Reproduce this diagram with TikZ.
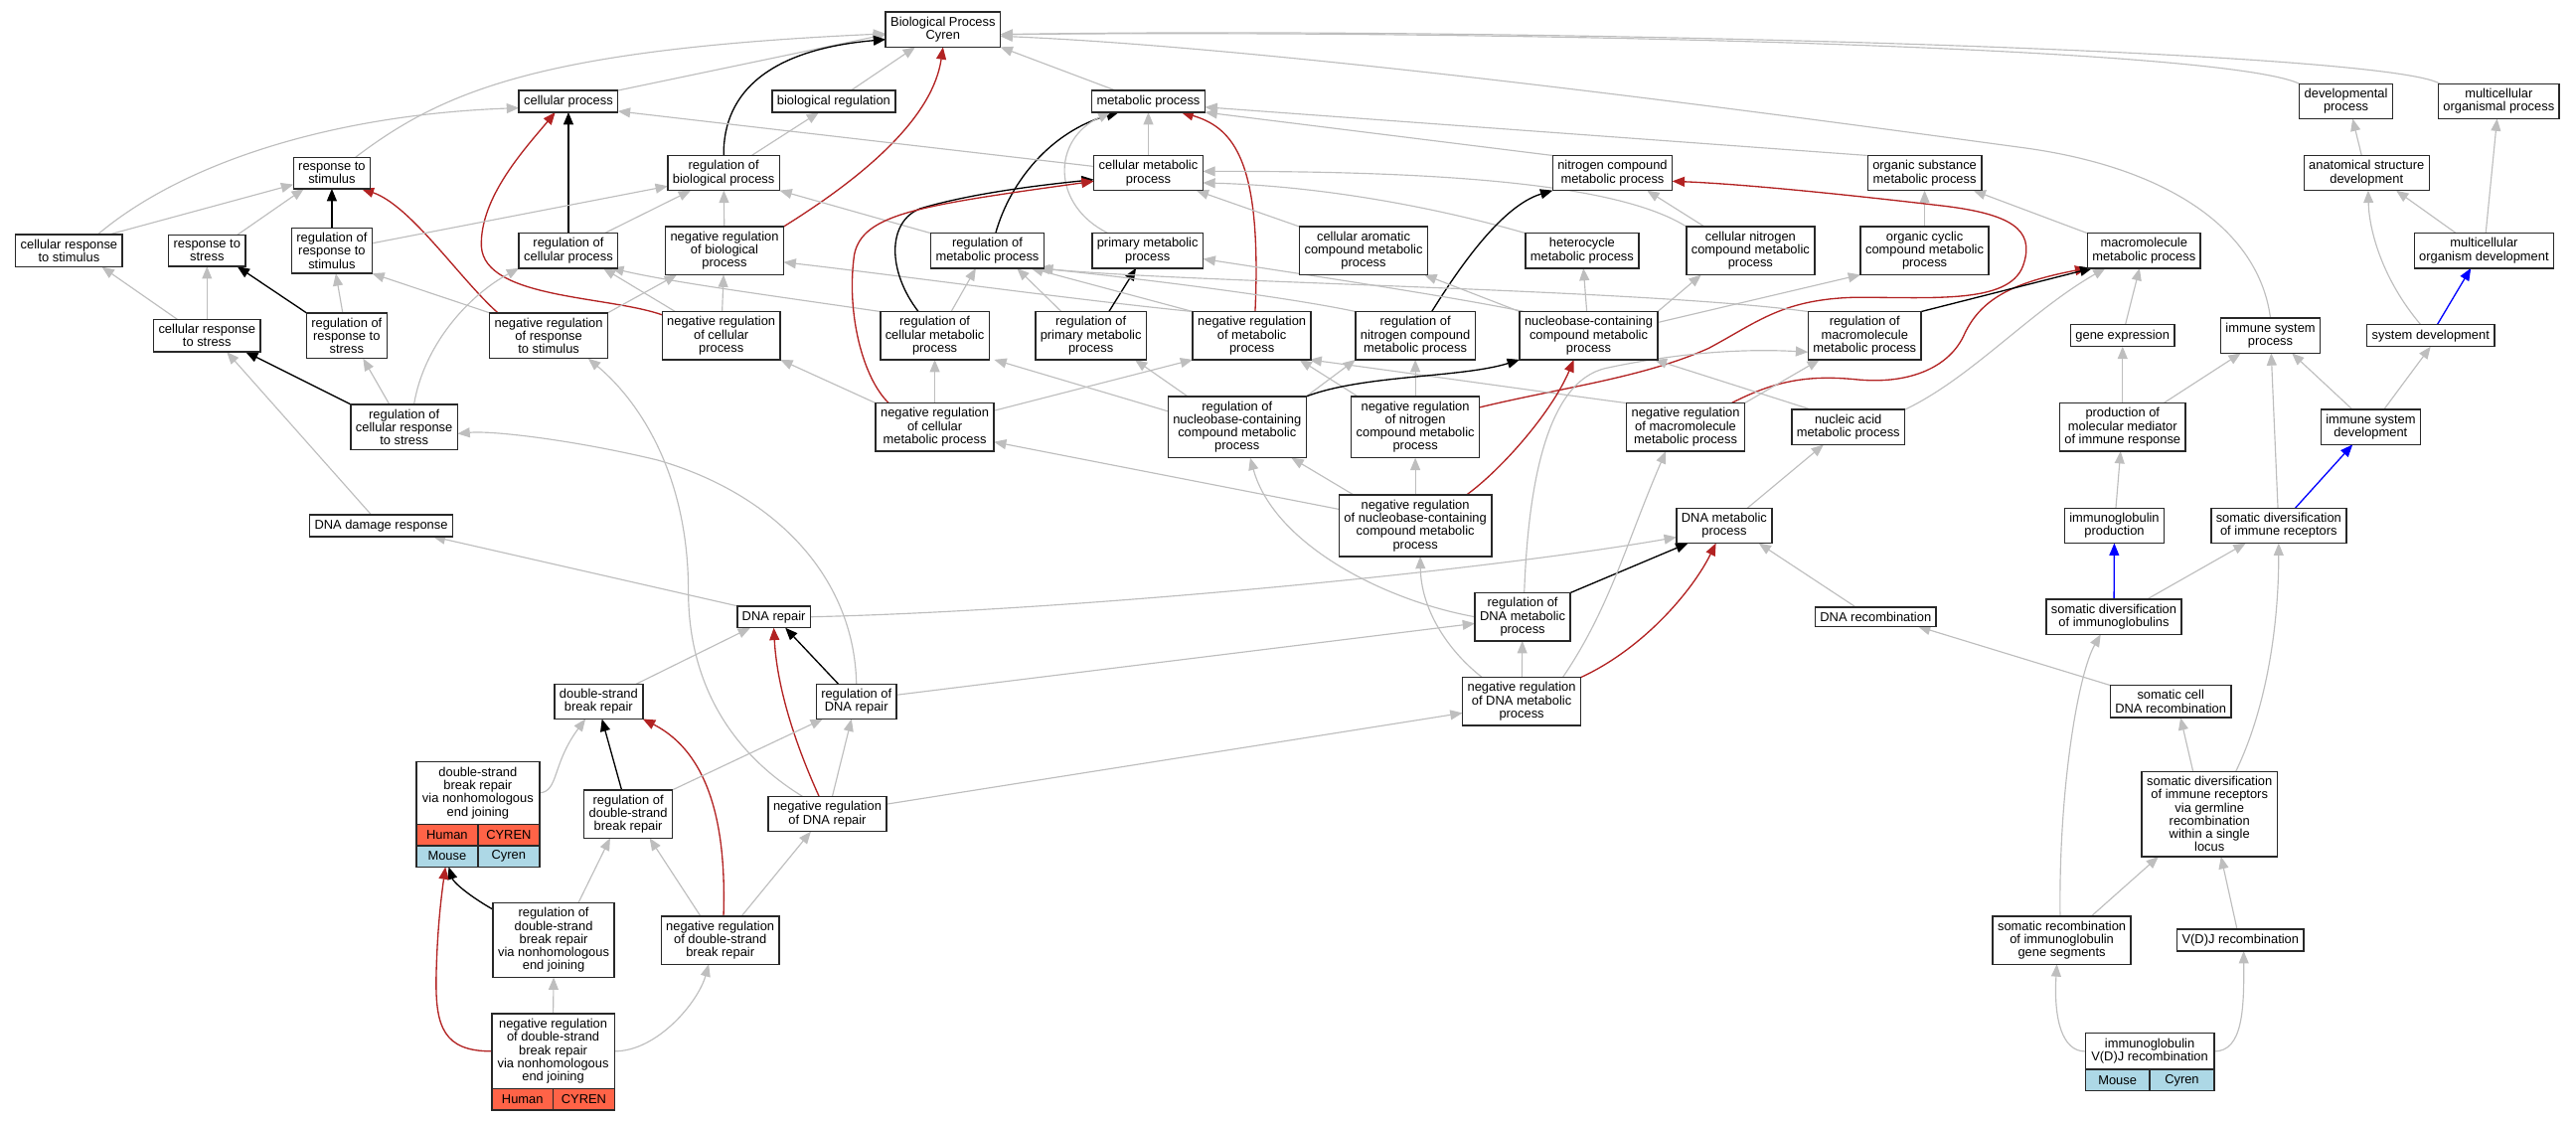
\documentclass[tikz,border=0pt]{standalone}
\usepackage{fontspec}
\setmainfont{Liberation Sans}
\usetikzlibrary{arrows.meta,backgrounds}

\begin{document}
\begin{tikzpicture}[x=1pt, y=-1pt,
    term/.style={draw=boxline, line width=0.9pt, fill=white, align=center,
      inner xsep=3pt, inner ysep=3pt, outer sep=0pt, font=\fontsize{7.8}{8}\selectfont},
    cell/.style={draw=boxline, line width=0.9pt, inner sep=0pt, outer sep=0pt,
      minimum height=13pt, font=\fontsize{7.8}{8}\selectfont},
    isa/.style={-{Triangle[length=7.5pt,width=6pt]}, draw=edgegray, line width=0.7pt},
    regedge/.style={-{Triangle[length=7.5pt,width=6pt]}, draw=black, line width=0.8pt},
    negedge/.style={-{Triangle[length=7.5pt,width=6pt]}, draw=negred, line width=0.8pt},
    partedge/.style={-{Triangle[length=7.5pt,width=6pt]}, draw=blue, line width=0.8pt}]

    % Цвета
    \definecolor{boxline}{RGB}{40,40,40}
    \definecolor{edgegray}{RGB}{190,190,190}
    \definecolor{negred}{RGB}{178,34,34}
    \definecolor{humanfill}{RGB}{255,99,71}
    \definecolor{mousefill}{RGB}{173,216,230}

    \useasboundingbox (0,0) rectangle (1568,682);

    % Корень и первый уровень
    \node[term] (bp) at (574,18) {Biological Process\\Cyren};
    \node[term] (cellproc) at (346,61.7) {cellular process};
    \node[term] (bioreg) at (507.5,61.7) {biological regulation};
    \node[term] (metab) at (699,61.7) {metabolic process};
    \node[term] (devproc) at (1428,61.6) {developmental\\process};
    \node[term] (multiorg) at (1521,61.6) {multicellular\\organismal process};

    % Второй уровень
    \node[term] (respstim) at (202,105.3) {response to\\stimulus};
    \node[term] (regbio) at (440.5,105.3) {regulation of\\biological process};
    \node[term] (cellmetab) at (699,105.3) {cellular metabolic\\process};
    \node[term] (nitro) at (981.5,105.3) {nitrogen compound\\metabolic process};
    \node[term] (orgsub) at (1171.5,105.3) {organic substance\\metabolic process};
    \node[term] (anat) at (1440.5,105.3) {anatomical structure\\development};

    % Третий уровень
    \node[term] (cellrespstim) at (42,152.6) {cellular response\\to stimulus};
    \node[term] (respstress) at (126,152.6) {response to\\stress};
    \node[term] (regrespstim) at (202,152.6) {regulation of\\response to\\stimulus};
    \node[term] (regcell) at (346,152.6) {regulation of\\cellular process};
    \node[term] (negregbio) at (441,152.6) {negative regulation\\of biological\\process};
    \node[term] (regmetab) at (601,152.6) {regulation of\\metabolic process};
    \node[term] (primmetab) at (698.5,152.6) {primary metabolic\\process};
    \node[term] (cellarom) at (830,152.6) {cellular aromatic\\compound metabolic\\process};
    \node[term] (hetero) at (963,152.6) {heterocycle\\metabolic process};
    \node[term] (cellnitro) at (1065.5,152.6) {cellular nitrogen\\compound metabolic\\process};
    \node[term] (orgcyc) at (1171.5,152.6) {organic cyclic\\compound metabolic\\process};
    \node[term] (macro) at (1305,152.6) {macromolecule\\metabolic process};
    \node[term] (multidev) at (1512,152.6) {multicellular\\organism development};

    % Четвёртый уровень
    \node[term] (cellrespstress) at (126,204.3) {cellular response\\to stress};
    \node[term] (regrespstress) at (211,204.3) {regulation of\\response to\\stress};
    \node[term] (negregrespstim) at (334,204.3) {negative regulation\\of response\\to stimulus};
    \node[term] (negregcell) at (439,204.3) {negative regulation\\of cellular\\process};
    \node[term] (regcellmetab) at (569,204.3) {regulation of\\cellular metabolic\\process};
    \node[term] (regprim) at (664,204.3) {regulation of\\primary metabolic\\process};
    \node[term] (negregmetab) at (762,204.3) {negative regulation\\of metabolic\\process};
    \node[term] (regnitro) at (861.5,204.3) {regulation of\\nitrogen compound\\metabolic process};
    \node[term] (nucleo) at (967,204.3) {nucleobase-containing\\compound metabolic\\process};
    \node[term] (regmacro) at (1135,204.3) {regulation of\\macromolecule\\metabolic process};
    \node[term] (geneexp) at (1292,204.3) {gene expression};
    \node[term] (immsys) at (1382,204.3) {immune system\\process};
    \node[term] (sysdev) at (1479.5,204.3) {system development};

    % Пятый уровень
    \node[term] (regcellresp) at (246,260) {regulation of\\cellular response\\to stress};
    \node[term] (negregcellmetab) at (569,260) {negative regulation\\of cellular\\metabolic process};
    \node[term] (regnucleo) at (753,260) {regulation of\\nucleobase-containing\\compound metabolic\\process};
    \node[term] (negregnitro) at (861.5,260) {negative regulation\\of nitrogen\\compound metabolic\\process};
    \node[term] (negregmacro) at (1026,260) {negative regulation\\of macromolecule\\metabolic process};
    \node[term] (nucacid) at (1125,260) {nucleic acid\\metabolic process};
    \node[term] (prodmed) at (1292,260) {production of\\molecular mediator\\of immune response};
    \node[term] (immdev) at (1443,260) {immune system\\development};

    % Шестой уровень
    \node[term] (dnadamage) at (232,320) {DNA damage response};
    \node[term] (negregnucleo) at (861.5,320) {negative regulation\\of nucleobase-containing\\compound metabolic\\process};
    \node[term] (dnametab) at (1049.5,320) {DNA metabolic\\process};
    \node[term] (igprod) at (1287,320) {immunoglobulin\\production};
    \node[term] (somdiv) at (1387,320) {somatic diversification\\of immune receptors};

    % Седьмой и восьмой уровни
    \node[term] (dnarepair) at (471,375.5) {DNA repair};
    \node[term] (regdnametab) at (926.8,375.5) {regulation of\\DNA metabolic\\process};
    \node[term] (dnarecomb) at (1141.7,375.5) {DNA recombination};
    \node[term] (somdivig) at (1286.7,375.5) {somatic diversification\\of immunoglobulins};
    \node[term] (dsb) at (364.4,427) {double-strand\\break repair};
    \node[term] (regdnarepair) at (521.3,427) {regulation of\\DNA repair};
    \node[term] (negregdnametab) at (926.2,427) {negative regulation\\of DNA metabolic\\process};
    \node[term] (somcell) at (1321.3,427) {somatic cell\\DNA recombination};

    % Нижние уровни
    \node[term, minimum width=75pt, minimum height=38.1pt] (nhej) at (290.9,482.65) {double-strand\\break repair\\via nonhomologous\\end joining};
    \node[term] (regdsb) at (382.4,495.5) {regulation of\\double-strand\\break repair};
    \node[term] (negregdnarepair) at (503.6,495.5) {negative regulation\\of DNA repair};
    \node[term] (somgerm) at (1344.9,495.5) {somatic diversification\\of immune receptors\\via germline\\recombination\\within a single\\locus};
    \node[term] (regnhej) at (337,572.3) {regulation of\\double-strand\\break repair\\via nonhomologous\\end joining};
    \node[term] (negregdsb) at (438.4,572.3) {negative regulation\\of double-strand\\break repair};
    \node[term] (somrecomb) at (1255,572.3) {somatic recombination\\of immunoglobulin\\gene segments};
    \node[term] (vdj) at (1363.7,572.3) {V(D)J recombination};
    \node[term, minimum width=74.6pt, minimum height=45.8pt] (negregnhej) at (336.7,639.9) {negative regulation\\of double-strand\\break repair\\via nonhomologous\\end joining};
    \node[term, minimum width=78.4pt, minimum height=22.1pt] (igvdj) at (1308.5,640) {immunoglobulin\\V(D)J recombination};

    % Таблицы видов
    \node[cell, fill=humanfill, minimum width=37.5pt, anchor=north west] (nhejh) at (nhej.south west) {Human};
    \node[cell, fill=humanfill, minimum width=37.5pt, anchor=north west] (nhejc) at (nhejh.north east) {CYREN};
    \node[cell, fill=mousefill, minimum width=37.5pt, anchor=north west] (nhejm) at (nhejh.south west) {Mouse};
    \node[cell, fill=mousefill, minimum width=37.5pt, anchor=north west] (nhejy) at (nhejm.north east) {Cyren};
    \node[cell, fill=humanfill, minimum width=37.3pt, anchor=north west] (negnhejh) at (negregnhej.south west) {Human};
    \node[cell, fill=humanfill, minimum width=37.3pt, anchor=north west] (negnhejc) at (negnhejh.north east) {CYREN};
    \node[cell, fill=mousefill, minimum width=39.2pt, anchor=north west] (igvdjm) at (igvdj.south west) {Mouse};
    \node[cell, fill=mousefill, minimum width=39.2pt, anchor=north west] (igvdjy) at (igvdjm.north east) {Cyren};

    \begin{scope}[on background layer]
    % Простые связи
    \foreach \a/\b in {cellmetab/metab, negregbio/regbio, negregcell/negregbio, cellrespstress/respstress,
        regrespstress/regrespstim, geneexp/macro, orgcyc/orgsub, nucleo/hetero,
        negregcellmetab/regcellmetab, negregnitro/regnitro, negregnucleo/negregnitro,
        negregdnametab/regdnametab, igprod/prodmed, prodmed/geneexp, somdiv/immsys, multidev/multiorg}
        \draw[isa] (\a) -- (\b);
    \foreach \a/\b in {regcell/cellproc, regrespstim/respstim}
        \draw[regedge] (\a) -- (\b);
    \draw[partedge] (somdivig) -- (igprod);

    % Связи к корню
    \draw[isa] ([xshift=-9pt]respstim.north east) .. controls (270,55) and (330,30) .. ([yshift=-2.5pt]bp.west);
    \draw[isa] (cellproc.north east) -- ([yshift=-3pt]bp.west);
    \draw[regedge] (regbio.north) .. controls (440,55) and (470,30) .. ([yshift=-6pt]bp.west);
    \draw[isa] ([xshift=-27pt]bioreg.north east) -- ([xshift=18pt]bp.south west);
    \draw[negedge] (negregbio.north east) .. controls (530,105) and (568,70) .. (bp.south);
    \draw[isa] ([xshift=-20pt]metab.north) -- (bp.south east);
    \draw[isa] (devproc.north west) .. controls (1350,28) and (900,18) .. ([yshift=-3pt]bp.east);
    \draw[isa] ([xshift=1pt]multiorg.north west) .. controls (1450,30) and (900,16) .. ([yshift=-3pt]bp.east);
    \draw[isa] (immsys.north) .. controls (1375,140) and (1320,102) .. (1232,90) .. controls (1150,79) and (800,30) .. ([yshift=-4pt]bp.east);
    \draw[isa] ([xshift=-17pt]regbio.north east) -- ([xshift=-9pt]bioreg.south);

    % metabolic process
    \draw[regedge] ([xshift=5pt]regmetab.north) .. controls (615,110) and (640,80) .. ([xshift=-18pt]metab.south);
    \draw[isa] ([xshift=-24pt]primmetab.north) .. controls (640,125) and (640,85) .. ([xshift=-23pt]metab.south);
    \draw[negedge] ([xshift=2pt]negregmetab.north) .. controls (768,100) and (752,78) .. ([xshift=20pt]metab.south);
    \draw[isa] (orgsub.north west) -- ([yshift=-3.5pt]metab.east);
    \draw[isa] (nitro.north west) -- (metab.south east);

    % cellular process, response to stimulus
    \draw[isa] ([xshift=-15pt]cellrespstim.north east) .. controls (110,100) and (200,70) .. ([yshift=-4pt]cellproc.west);
    \draw[isa] ([xshift=-8pt]cellrespstim.north east) -- ([yshift=-7pt]respstim.west);
    \draw[negedge] ([yshift=-2pt]negregcell.north west) .. controls (370,180) and (295,182) .. (293,150) .. controls (292,120) and (320,90) .. ([xshift=-8pt]cellproc.south);
    \draw[isa] ([yshift=4pt]cellmetab.west) -- ([yshift=-6pt]cellproc.east);
    \draw[isa] ([xshift=-5pt]respstress.north east) -- ([xshift=-17pt]respstim.south);
    \draw[negedge] ([xshift=5pt]negregrespstim.north west) .. controls (280,170) and (250,125) .. ([xshift=18pt]respstim.south);

    % regulation of biological process
    \draw[isa] ([yshift=4.5pt]regrespstim.east) -- ([yshift=-8pt]regbio.west);
    \draw[isa] ([xshift=22pt]regcell.north) -- ([xshift=-20pt]regbio.south);
    \draw[isa] (regmetab.north west) -- (regbio.south east);
    \draw[isa] (negregrespstim.north east) -- ([xshift=-29pt]negregbio.south);
    \draw[isa] (negregmetab.north west) .. controls (650,182) and (550,168) .. ([yshift=-7pt]negregbio.east);

    % regulation of cellular process, stress
    \draw[isa] ([xshift=6pt]regcellresp.north) .. controls (258,210) and (285,180) .. (regcell.south west);
    \draw[isa] ([xshift=8pt]negregcell.north west) -- ([xshift=-9pt]regcell.south east);
    \draw[isa] (regcellmetab.north west) .. controls (470,180) and (410,172) .. ([xshift=-4pt]regcell.south east);
    \draw[regedge] (regrespstress.north west) -- ([xshift=-5pt]respstress.south east);
    \draw[isa] ([xshift=-18pt]cellrespstress.north) -- ([xshift=20pt]cellrespstim.south);
    \draw[isa] (negregrespstim.north west) -- (regrespstim.south east);
    \draw[regedge] (regcellresp.north west) -- ([xshift=-9pt]cellrespstress.south east);
    \draw[isa] ([xshift=-6pt]dnadamage.north) -- ([xshift=12pt]cellrespstress.south);
    \draw[isa] ([xshift=-9pt]regcellresp.north) -- ([xshift=10pt]regrespstress.south);
    \draw[isa] ([xshift=-15pt]negregdnarepair.north) .. controls (440,455) and (419,410) .. (419,360) .. controls (419,290) and (390,245) .. ([xshift=24pt]negregrespstim.south);
    \draw[isa] (regdnarepair.north) .. controls (520,350) and (470,300) .. (400,280) .. controls (350,268) and (300,262) .. ([yshift=-4pt]regcellresp.east);
    \draw[isa] (dnarepair.north west) -- ([xshift=-12pt]dnadamage.south east);

    % cellular metabolic process
    \draw[isa] (cellarom.north west) -- ([xshift=-4pt]cellmetab.south east);
    \draw[isa] (hetero.north west) .. controls (870,125) and (800,113) .. ([yshift=-6pt]cellmetab.east);
    \draw[isa] (cellnitro.north west) .. controls (990,115) and (900,104) .. ([yshift=1pt]cellmetab.east);
    \draw[regedge] ([xshift=-10pt]regcellmetab.north) .. controls (540,165) and (540,135) .. (560,127) .. controls (590,118) and (630,113) .. ([yshift=-4pt]cellmetab.west);
    \draw[negedge] ([xshift=-28pt]negregcellmetab.north) .. controls (525,230) and (515,190) .. (520,155) .. controls (525,130) and (560,125) .. ([yshift=-5pt]cellmetab.west);

    % nitrogen compound, macromolecule
    \draw[isa] ([xshift=-28pt]cellnitro.north) -- ([xshift=21pt]nitro.south);
    \draw[regedge] ([xshift=10pt]regnitro.north) .. controls (890,160) and (915,125) .. (nitro.south west);
    \draw[negedge] ([yshift=12pt]negregnitro.east) .. controls (950,236) and (1000,230) .. (1040,212) .. controls (1070,196) and (1085,182) .. (1130,181) .. controls (1180,181) and (1225,185) .. (1232,160) .. controls (1238,140) and (1225,130) .. (1180,125) .. controls (1120,118) and (1060,112) .. ([yshift=-5pt]nitro.east);
    \draw[negedge] ([xshift=-8pt]negregmacro.north east) .. controls (1080,232) and (1100,228) .. (1130,231) .. controls (1160,234) and (1185,225) .. (1195,205) .. controls (1205,182) and (1225,172) .. (macro.south west);
    \draw[regedge] (regmacro.north east) -- ([xshift=3pt]macro.south west);
    \draw[isa] (nucacid.north east) .. controls (1200,230) and (1235,190) .. ([xshift=11pt]macro.south west);
    \draw[isa] (macro.north west) -- ([xshift=-5pt]orgsub.south east);

    % nucleobase-containing
    \draw[isa] ([yshift=8pt]nucleo.east) -- (orgcyc.south west);
    \draw[isa] (nucleo.north east) -- ([xshift=-30pt]cellnitro.south);
    \draw[isa] (nucleo.north west) -- ([xshift=-2pt]cellarom.south east);
    \draw[isa] ([xshift=3pt]nucleo.north west) .. controls (880,180) and (800,168) .. ([yshift=-5pt]primmetab.east);
    \draw[regedge] ([xshift=11pt]regprim.north) -- ([xshift=-7pt]primmetab.south);

    % regulation of metabolic process
    \draw[isa] ([xshift=10pt]regcellmetab.north) -- ([xshift=-7pt]regmetab.south);
    \draw[isa] ([xshift=-18pt]regprim.north) -- ([xshift=18pt]regmetab.south);
    \draw[isa] (negregmetab.north west) -- ([xshift=-8pt]regmetab.south east);
    \draw[isa] (regnitro.north west) .. controls (780,180) and (680,168) .. ([xshift=-4pt]regmetab.south east);
    \draw[isa] (regmacro.north west) .. controls (1000,176) and (720,172) .. ([xshift=-2pt]regmetab.south east);

    % пятый уровень вверх
    \draw[isa] ([yshift=-9pt]regnucleo.north west) -- ([xshift=3pt]regcellmetab.south east);
    \draw[isa] ([xshift=12pt]regnucleo.north west) -- ([xshift=-7pt]regprim.south east);
    \draw[isa] ([yshift=10pt]negregcellmetab.east) -- (negregmetab.south west);
    \draw[isa] ([xshift=4pt]negregnitro.north west) -- ([xshift=-7pt]negregmetab.south east);
    \draw[isa] (negregmacro.north west) .. controls (920,236) and (850,226) .. ([xshift=-1pt]negregmetab.south east);
    \draw[isa] (regnucleo.north east) -- (regnitro.south west);
    \draw[isa] (negregcellmetab.north west) -- (negregcell.south east);
    \draw[regedge] (regnucleo.north east) .. controls (830,228) and (890,230) .. (nucleo.south west);
    \draw[negedge] ([xshift=31pt]negregnucleo.north) .. controls (915,285) and (945,250) .. ([xshift=-9pt]nucleo.south);
    \draw[isa] ([xshift=12pt]nucacid.north west) -- ([xshift=-2pt]nucleo.south east);
    \draw[isa] ([xshift=9pt]negregnucleo.north west) -- ([xshift=-9pt]regnucleo.south east);
    \draw[isa] (regdnametab.west) .. controls (840,365) and (775,330) .. ([xshift=8pt]regnucleo.south);
    \draw[isa] ([yshift=10pt]negregnucleo.west) -- ([yshift=-9pt]negregcellmetab.east);
    \draw[isa] (negregmacro.north east) -- ([xshift=7pt]regmacro.south west);

    % DNA metabolic process
    \draw[isa] (dnarepair.east) .. controls (650,372) and (900,348) .. ([yshift=-7pt]dnametab.west);
    \draw[regedge] (regdnametab.north east) -- ([xshift=7pt]dnametab.south west);
    \draw[negedge] (negregdnametab.north east) .. controls (1000,395) and (1030,360) .. ([xshift=-5pt]dnametab.south);
    \draw[isa] ([xshift=-12pt]dnarecomb.north) -- ([xshift=-8pt]dnametab.south east);
    \draw[isa] ([xshift=-15pt]dnametab.north east) -- ([xshift=-15pt]nucacid.south);
    \draw[isa] ([yshift=4pt]regdnarepair.east) -- ([yshift=-4pt]regdnametab.west);
    \draw[isa] ([yshift=6pt]negregdnarepair.east) -- ([yshift=-7pt]negregdnametab.west);
    \draw[isa] ([xshift=-24pt]negregdnametab.north) .. controls (880,395) and (865,370) .. ([xshift=3pt]negregnucleo.south);
    \draw[isa] ([xshift=25pt]negregdnametab.north) .. controls (980,370) and (990,330) .. ([xshift=-12pt]negregmacro.south);
    \draw[isa] ([xshift=1pt]regdnametab.north) .. controls (930,300) and (940,232) .. (978,224) .. controls (1020,215) and (1060,212) .. ([yshift=-10pt]regmacro.west);

    % DNA repair
    \draw[isa] ([xshift=-4pt]dsb.north east) -- ([xshift=8pt]dnarepair.south west);
    \draw[regedge] ([xshift=-11pt]regdnarepair.north) -- ([xshift=7pt]dnarepair.south);
    \draw[negedge] ([xshift=-5pt]negregdnarepair.north) .. controls (485,455) and (473,420) .. (dnarepair.south);
    \draw[isa] (nhej.east) .. controls (340,482) and (336,465) .. ([xshift=-8pt]dsb.south);
    \draw[regedge] ([xshift=-4pt]regdsb.north) -- ([xshift=2pt]dsb.south);
    \draw[negedge] ([xshift=2pt]negregdsb.north) .. controls (442,510) and (435,460) .. (dsb.south east);
    \draw[isa] (regdsb.north east) -- ([xshift=4pt]regdnarepair.south west);
    \draw[isa] ([xshift=3pt]negregdnarepair.north) -- ([xshift=-3pt]regdnarepair.south);
    \draw[isa] ([xshift=13pt]negregdsb.north) -- ([xshift=-10pt]negregdnarepair.south);
    \draw[isa] ([xshift=15pt]regnhej.north) -- ([xshift=-11pt]regdsb.south);
    \draw[isa] ([xshift=-12pt]negregdsb.north) -- ([xshift=13pt]regdsb.south);
    \draw[regedge] ([yshift=-4pt]regnhej.north west) .. controls (285,545) and (276,537) .. ([xshift=1pt]nhejm.south);
    \draw[negedge] (negregnhej.west) .. controls (270,640) and (265,625) .. (265.5,595) .. controls (266,570) and (268,550) .. ([xshift=-1pt]nhejm.south);
    \draw[isa] (negregnhej.north) -- (regnhej.south);
    \draw[isa] (negregnhej.east) .. controls (400,640) and (425,610) .. ([xshift=-7pt]negregdsb.south);

    % Иммунная ветвь
    \draw[isa] ([xshift=20pt]somdivig.north) -- ([xshift=-20pt]somdiv.south);
    \draw[isa] ([xshift=16pt]somgerm.north) .. controls (1380,430) and (1387,380) .. (somdiv.south);
    \draw[isa] ([xshift=-10pt]somgerm.north) -- ([xshift=6pt]somcell.south);
    \draw[isa] (somcell.north west) -- ([xshift=-11pt]dnarecomb.south east);
    \draw[isa] ([xshift=-1pt]somrecomb.north) .. controls (1253,480) and (1265,410) .. ([xshift=-8pt]somdivig.south);
    \draw[isa] ([xshift=18pt]somrecomb.north) -- ([xshift=-31pt]somgerm.south);
    \draw[isa] ([xshift=-2pt]vdj.north) -- ([xshift=7pt]somgerm.south);
    \draw[isa] (igvdj.west) .. controls (1255,640) and (1250,620) .. ([xshift=-3pt]somrecomb.south);
    \draw[isa] (igvdj.east) .. controls (1365,640) and (1366,615) .. ([xshift=2pt]vdj.south);
    \draw[partedge] ([xshift=10pt]somdiv.north) -- ([xshift=-11pt]immdev.south);
    \draw[isa] ([xshift=25pt]prodmed.north) -- ([xshift=-18pt]immsys.south);
    \draw[isa] ([xshift=-11pt]immdev.north) -- ([xshift=13pt]immsys.south);
    \draw[isa] ([xshift=8pt]immdev.north) -- (sysdev.south);
    \draw[partedge] ([xshift=4pt]sysdev.north) -- ([xshift=-8pt]multidev.south);
    \draw[isa] ([xshift=-6pt]sysdev.north) .. controls (1450,170) and (1442,140) .. ([xshift=1pt]anat.south);
    \draw[isa] ([xshift=-17pt]multidev.north) -- ([xshift=18pt]anat.south);
    \draw[isa] ([xshift=-3pt]anat.north) -- ([xshift=4pt]devproc.south);
    \end{scope}
\end{tikzpicture}
\end{document}
